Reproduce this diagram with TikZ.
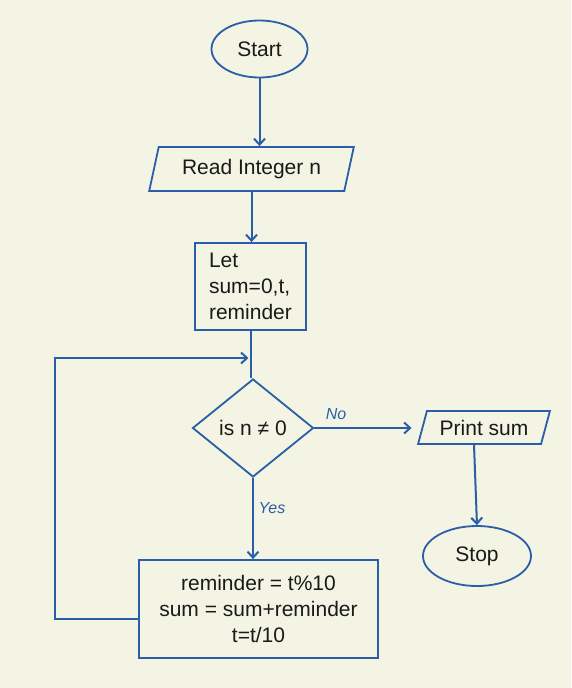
\documentclass[tikz,border=0pt]{standalone}
\usepackage{fontspec}
\setmainfont{Liberation Sans}
\usetikzlibrary{shapes.geometric,arrows.meta,calc}
\definecolor{bg}{HTML}{F3F4E3}
\definecolor{fl}{HTML}{2B5EA8}
\definecolor{tx}{HTML}{1A1A1A}
\begin{document}
\begin{tikzpicture}[x=1pt,y=-1pt,
  every node/.style={text=tx,font=\fontsize{21}{26}\selectfont},
  shp/.style={draw=fl,line width=1.8pt,inner sep=0pt},
  term/.style={shp,ellipse},
  io/.style={shp,trapezium,trapezium stretches=true},
  proc/.style={shp,rectangle,align=left},
  dec/.style={shp,diamond},
  conn/.style={flowline,-{Straight Barb[length=6pt,width=11pt]}},
  flowline/.style={draw=fl,line width=2pt},
  lab/.style={text=fl,font=\fontsize{16}{18}\selectfont\itshape}]
\fill[bg] (0,0) rectangle (571,688);
\useasboundingbox (0,0) rectangle (571,688);

\node[term,minimum width=96,minimum height=57] (start) at (259.5,49) {Start};
\node[io,trapezium left angle=70,trapezium right angle=110,minimum width=205,minimum height=44] (read) at (251.5,169) {Read Integer n};
\node[proc,minimum width=111,minimum height=87] (let) at (250.5,286.5) {Let\\sum=0,t,\\reminder};
\node[dec,minimum width=121,minimum height=98] (dec) at (253,428) {is n ≠ 0};
\node[io,trapezium left angle=66,trapezium right angle=114,minimum width=132,minimum height=33] (print) at (484,427.5) {Print sum};
\node[term,minimum width=108,minimum height=60] (stop) at (477,556) {Stop};
\node[shp,rectangle,align=center,minimum width=239,minimum height=98] (calc) at (258.5,609) {reminder = t\%10\\sum = sum+reminder\\t=t/10};

\coordinate (loopc) at (55,358);

\path[conn] (start.south) -- (start.south |- read.north);
\path[conn] (read.south) -- (read.south |- let.north);
\path[flowline] (let.south) -- (let.south |- dec.north);
\path[conn,shorten >=10pt] (dec.east) -- (dec.east -| print.west);
\path[conn] ([xshift=-10pt]print.south) -- (stop.north);
\path[conn] (dec.south) -- (dec.south |- calc.north);
\path[conn,shorten >=2pt] ([yshift=-10pt]calc.west) -| (loopc) -- (loopc -| let.south);

\node[lab] (no) at (336,414) {No};
\node[lab] (yes) at (272,508) {Yes};
\end{tikzpicture}
\end{document}
